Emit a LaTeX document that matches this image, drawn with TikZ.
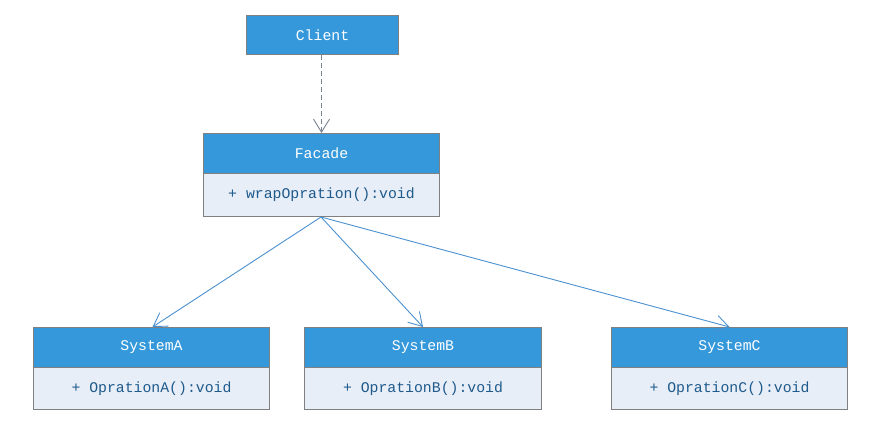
\documentclass[tikz,border=0pt]{standalone}
\usepackage{fontspec}
\setmonofont{Liberation Mono}
\usetikzlibrary{arrows.meta}
\definecolor{hdr}{RGB}{53,152,219}
\definecolor{bdy}{RGB}{232,238,247}
\definecolor{brd}{RGB}{128,128,128}
\definecolor{txt}{RGB}{30,90,140}
\definecolor{arr}{RGB}{75,145,208}
\definecolor{dsh}{RGB}{120,130,145}
\tikzset{
  hdrbox/.style={draw=brd, line width=1pt, fill=hdr, text=white, anchor=north west, inner sep=0pt,
    font=\fontsize{14.8}{17}\selectfont\ttfamily},
  bdybox/.style={draw=brd, line width=1pt, fill=bdy, text=txt, anchor=north west, inner sep=0pt,
    font=\fontsize{14.8}{17}\selectfont\ttfamily},
  conn/.style={draw=arr, line width=0.9pt, -{Straight Barb[length=13pt,width=16pt,line width=0.9pt]}},
  dconn/.style={draw=dsh, line width=0.9pt, dash pattern=on 5pt off 3pt, -{Straight Barb[length=13pt,width=16pt,line width=0.9pt]}},
}
\begin{document}
\begin{tikzpicture}[x=1pt,y=-1pt]
\useasboundingbox (0,0) rectangle (880,436);
\node[hdrbox, minimum width=152pt, minimum height=39pt] (client) at (246,15) {Client};
\node[hdrbox, minimum width=236pt, minimum height=40pt] (facade) at (203,133) {Facade};
\node[bdybox, minimum width=236pt, minimum height=43pt] (facadeb) at (203,173) {+ wrapOpration():void};
\node[hdrbox, minimum width=236pt, minimum height=40pt] (sa) at (33,327) {SystemA};
\node[bdybox, minimum width=236pt, minimum height=42pt] (sab) at (33,367) {+ OprationA():void};
\node[hdrbox, minimum width=237pt, minimum height=40pt] (sb) at (304,327) {SystemB};
\node[bdybox, minimum width=237pt, minimum height=42pt] (sbb) at (304,367) {+ OprationB():void};
\node[hdrbox, minimum width=236pt, minimum height=40pt] (sc) at (611,327) {SystemC};
\node[bdybox, minimum width=236pt, minimum height=42pt] (scb) at (611,367) {+ OprationC():void};
\draw[dconn] (facade.north |- client.south) -- (facade.north);
\coordinate (fb) at ([xshift=-0.5pt]facadeb.south);
\draw[conn] (fb) -- ([xshift=1pt]sa.north);
\draw[conn] (fb) -- (sb.north);
\draw[conn] (fb) -- (sc.north);
\end{tikzpicture}
\end{document}
